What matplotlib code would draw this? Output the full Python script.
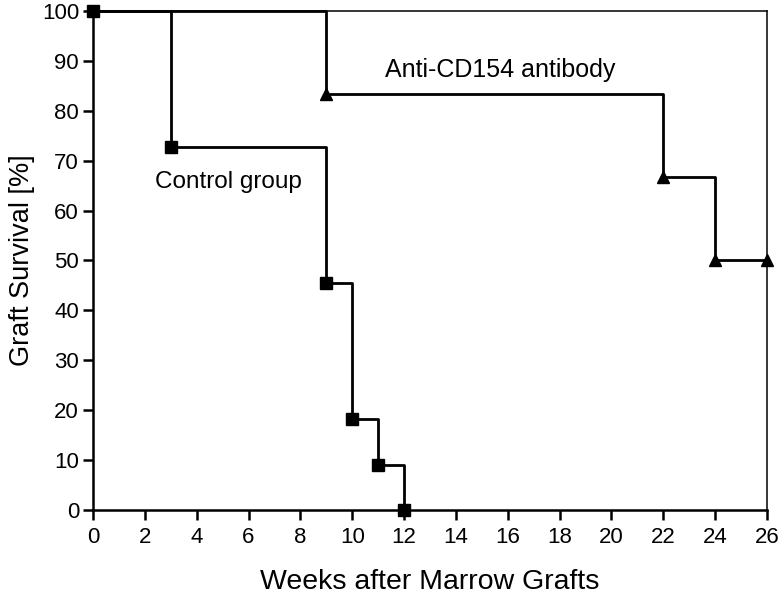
import matplotlib
matplotlib.use("Agg")
import matplotlib.pyplot as plt

plt.rcParams['font.family'] = ['Liberation Sans', 'DejaVu Sans']

# Kaplan-Meier survival data (weeks, % graft survival)
control_weeks = [0, 3, 9, 10, 11, 12]
control_surv = [100, 72.7, 45.5, 18.2, 9.1, 0]

anti_weeks = [0, 9, 22, 24, 26]
anti_surv = [100, 83.3, 66.7, 50, 50]

x_ticks = list(range(0, 27, 2))
y_ticks = list(range(0, 101, 10))

fig = plt.figure(figsize=(7.79, 5.94), dpi=100)
ax = fig.add_axes([0.1194, 0.1414, 0.8652, 0.8401])

# step lines
ax.step(control_weeks, control_surv, where='post', color='black', lw=2, clip_on=False, zorder=3)
ax.step(anti_weeks, anti_surv, where='post', color='black', lw=2, clip_on=False, zorder=3)

# markers at each event
ax.plot(control_weeks, control_surv, ls='none', marker='s', ms=8.5, color='black', clip_on=False, zorder=4)
ax.plot(anti_weeks[1:], anti_surv[1:], ls='none', marker='^', ms=9, color='black', clip_on=False, zorder=4)

ax.text(2.39, 64.5, "Control group", fontsize=17.5, va='baseline', ha='left')
ax.text(11.27, 86.8, "Anti-CD154 antibody", fontsize=18, va='baseline', ha='left')

ax.set_xlim(0, 26)
ax.set_ylim(0, 100)
ax.set_xticks(x_ticks)
ax.set_yticks(y_ticks)
ax.tick_params(direction='out', length=7, width=1.8, labelsize=16, pad=3)
ax.tick_params(axis='x', pad=5)

for side in ['left', 'bottom']:
    ax.spines[side].set_linewidth(1.8)
for side in ['top', 'right']:
    ax.spines[side].set_linewidth(1.1)

ax.set_xlabel("Weeks after Marrow Grafts", fontsize=20.5, labelpad=15)
ax.set_ylabel("Graft Survival [%]", fontsize=19.5, labelpad=5)

fig.savefig("out.png", dpi=100)
